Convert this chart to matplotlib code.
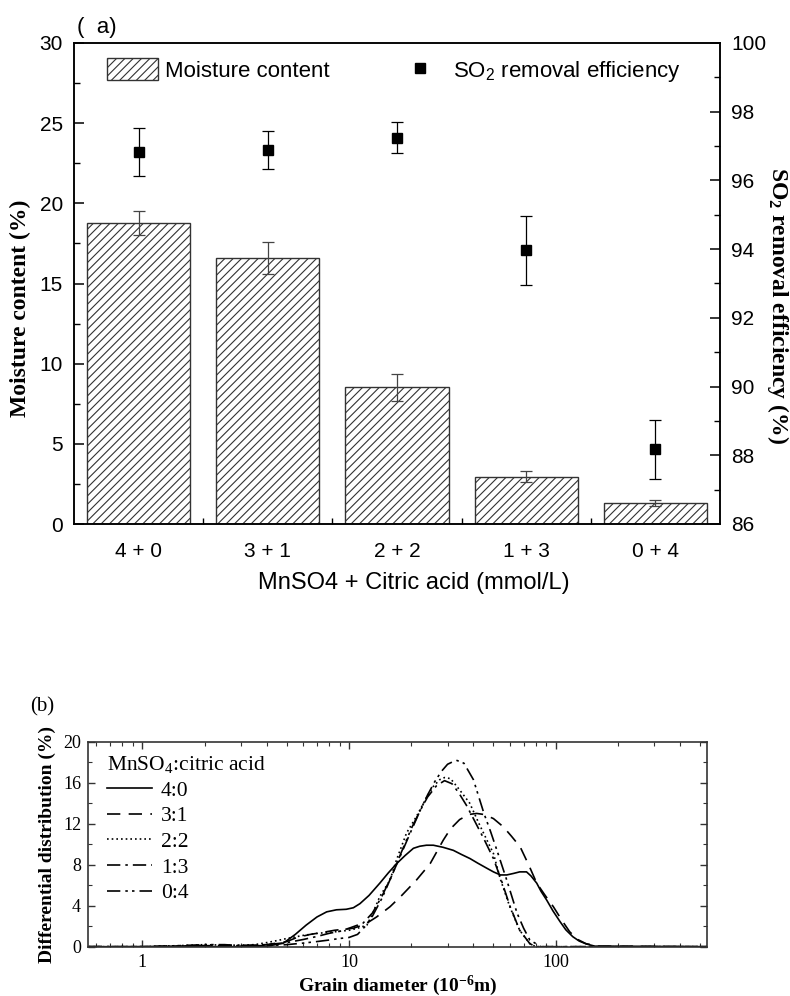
import matplotlib
matplotlib.use('Agg')
import matplotlib.pyplot as plt
from matplotlib.lines import Line2D
from matplotlib.patches import Patch
from matplotlib.ticker import MultipleLocator, FixedLocator, LogLocator, NullFormatter

plt.rcParams['font.family'] = ['Liberation Sans', 'DejaVu Sans']
plt.rcParams['mathtext.default'] = 'regular'
plt.rcParams['hatch.linewidth'] = 0.8

# ---- panel (a) data ----
groupes = ['4 + 0', '3 + 1', '2 + 2', '1 + 3', '0 + 4']
humidite = [18.75, 16.6, 8.53, 2.95, 1.33]
humidite_err = [0.75, 1.0, 0.85, 0.35, 0.18]
so2 = [96.84, 96.88, 97.24, 93.97, 88.17]
so2_err = [0.7, 0.55, 0.45, 1.0, 0.85]

# ---- panel (b) data ----
x_40 = [0.55, 1, 2, 3, 4, 4.8, 5.5, 6.2, 7, 7.8, 8.7, 9.7, 10.5, 11.3, 12.5, 14.1, 15.5, 17, 18.7,
        20.5, 22, 23.7, 25.6, 28.5, 32, 35, 38.5, 42, 46.5, 50, 54, 58, 62.6, 67, 72.3, 76, 81, 85,
        90.5, 97, 105, 112, 121, 130, 141, 155, 540]
y_40 = [0, 0, 0, 0, 0.05, 0.33, 1.2, 2.1, 2.9, 3.4, 3.6, 3.65, 3.8, 4.2, 5.0, 6.2, 7.2, 8.1, 8.9,
        9.6, 9.8, 9.9, 9.9, 9.7, 9.4, 9.0, 8.6, 8.15, 7.65, 7.3, 7.0, 7.0, 7.15, 7.3, 7.3, 6.9, 6.2, 5.4,
        4.55, 3.5, 2.45, 1.65, 0.98, 0.55, 0.26, 0.05, 0]
x_31 = [0.55, 1, 2, 3, 4, 5, 5.6, 6.5, 7.5, 8.5, 9.4, 10.5, 12, 13.6, 15.8, 18, 21.2, 24.7, 28.6,
        31, 34.3, 38, 41.5, 45, 50, 55.8, 61, 67.3, 74, 81, 89, 97.5, 107, 117, 128, 140, 160, 540]
y_31 = [0, 0, 0.1, 0.1, 0.2, 0.5, 0.9, 1.2, 1.4, 1.6, 1.7, 1.8, 2.2, 2.9, 3.9, 5.0, 6.5, 8.1, 10.4,
        11.5, 12.4, 12.9, 13.0, 12.9, 12.5, 11.7, 10.8, 9.75, 8.0, 6.2, 5.0, 3.9, 2.6, 1.45, 0.7, 0.3, 0.05, 0]
x_22 = [0.55, 1, 1.5, 2, 2.5, 3, 3.5, 4, 4.5, 5, 6, 7, 8, 9, 10, 11, 12.2, 13, 14.1, 15.8, 17, 19,
        21.2, 23.8, 25.5, 27.5, 29, 31, 34.3, 38.4, 42.6, 46.5, 50, 54, 60, 67, 75, 80, 540]
y_22 = [0, 0, 0.1, 0.2, 0.15, 0.15, 0.2, 0.4, 0.6, 0.8, 1.1, 1.3, 1.4, 1.5, 1.6, 1.8, 2.1, 3.2, 4.9,
        6.5, 8.5, 11.1, 12.7, 14.6, 15.6, 16.3, 16.5, 16.4, 15.3, 14.0, 12.0, 10.4, 9.1, 6.6, 3.9, 1.6,
        0.3, 0.0, 0]
x_13 = [0.55, 1, 2, 3, 4, 5, 6, 7, 8, 9, 10, 11.7, 13, 14.5, 16, 17.5, 19.5, 22, 24, 26.5, 29, 31.5,
        34, 37, 40, 45, 50, 55, 60, 67, 75, 80, 540]
y_13 = [0, 0, 0.1, 0.1, 0.2, 0.4, 0.7, 1.0, 1.3, 1.5, 1.8, 2.3, 3.3, 5.0, 6.8, 8.6, 10.8, 13.2, 14.6,
        15.7, 16.2, 15.9, 15.0, 13.8, 12.5, 10.5, 8.6, 6.3, 4.0, 1.6, 0.3, 0, 0]
x_04 = [0.55, 1, 1.5, 2, 2.5, 3, 4, 5, 6, 7, 8, 9, 10, 11, 12, 13, 14.5, 16, 18, 20, 22, 24, 26, 28,
        30, 33, 36, 40, 45, 48.5, 52, 58, 65, 70, 75, 85, 540]
y_04 = [0, 0, 0.1, 0.2, 0.2, 0.1, 0.1, 0.2, 0.35, 0.5, 0.65, 0.8, 0.9, 1.2, 2.0, 3.0, 4.8, 6.8, 9.3,
        11.5, 13.2, 14.8, 16.1, 17.1, 17.8, 18.2, 17.9, 16.3, 13.0, 11.2, 9.4, 6.5, 3.3, 1.8, 0.65, 0, 0]
courbes = [
    ('4:0', x_40, y_40, '-'),
    ('3:1', x_31, y_31, (0, (8, 5))),
    ('2:2', x_22, y_22, (0, (1, 1.8))),
    ('1:3', x_13, y_13, (0, (8, 3, 1.5, 3))),
    ('0:4', x_04, y_04, (0, (8, 3, 1.5, 2.5, 1.5, 3))),
]

fig = plt.figure(figsize=(7.9, 9.96), dpi=100)

# ================= panel (a) =================
ax1 = fig.add_axes([74 / 790, 1 - 524 / 996, 646 / 790, 481 / 996])
ax2 = ax1.twinx()
pos = list(range(len(groupes)))

ax1.bar(pos, humidite, width=0.8, color='white', edgecolor='#333333', hatch='////',
        linewidth=1.0, zorder=2)
ax1.errorbar(pos, humidite, yerr=humidite_err, fmt='none', ecolor='#444444',
             elinewidth=0.9, capsize=4, capthick=0.9, zorder=3)
ax2.errorbar(pos, so2, yerr=so2_err, fmt='s', color='black', markersize=7.5,
             elinewidth=0.9, capsize=4, capthick=0.9, zorder=4)

ax1.set_xlim(-0.5, 4.5)
ax1.set_ylim(0, 30)
ax2.set_ylim(86, 100)
ax1.set_xticks(pos)
ax1.set_xticklabels(groupes)
ax1.xaxis.set_minor_locator(FixedLocator([0.5, 1.5, 2.5, 3.5]))
ax1.yaxis.set_major_locator(MultipleLocator(5))
ax1.yaxis.set_minor_locator(MultipleLocator(2.5))
ax2.yaxis.set_major_locator(MultipleLocator(2))
ax2.yaxis.set_minor_locator(MultipleLocator(1))

for ax in (ax1, ax2):
    for sp in ax.spines.values():
        sp.set_linewidth(1.1)
    ax.tick_params(which='major', direction='in', length=7, width=1.1, labelsize=15)
    ax.tick_params(which='minor', direction='in', length=4, width=1.0)
ax1.tick_params(axis='x', which='major', pad=13)
ax1.tick_params(axis='y', which='major', pad=8)
ax2.tick_params(axis='y', which='major', pad=8)

ax1.set_xlabel('MnSO4 + Citric acid (mmol/L)', fontsize=17, x=0.526, labelpad=8)
ax1.set_ylabel('Moisture content (%)', fontsize=17, fontweight='bold',
               family=['Liberation Serif'], labelpad=6, y=0.449)
ax2.set_ylabel('SO$_2$ removal efficiency (%)', fontsize=17, fontweight='bold',
               family=['Liberation Serif'], rotation=270, labelpad=18, y=0.455)

h_bar = Patch(facecolor='white', edgecolor='#333333', hatch='////', linewidth=1.0)
h_pt = Line2D([], [], marker='s', color='black', linestyle='none', markersize=7.5)
ax2.legend([h_bar, h_pt], ['Moisture content', 'SO$_2$ removal efficiency'], ncol=2,
           loc='upper left', bbox_to_anchor=(0.051, 0.968), frameon=False, fontsize=16,
           handlelength=2.3, handleheight=1.15, handletextpad=0.3, columnspacing=2.95,
           borderpad=0, borderaxespad=0)

fig.text(77 / 790, 1 - 27 / 996, '(  a)', fontsize=16, va='center', ha='left')

# ================= panel (b) =================
serif = ['Liberation Serif', 'DejaVu Serif']
ax3 = fig.add_axes([88 / 790, 1 - 946.7 / 996, 619 / 790, 205 / 996])
for nom, xs, ys, ls in courbes:
    ax3.plot(xs, ys, linestyle=ls, color='black', linewidth=1.2, label=nom)

ax3.set_xscale('log')
ax3.set_xlim(0.546, 540)
ax3.set_ylim(0, 20)
ax3.yaxis.set_major_locator(MultipleLocator(4))
ax3.yaxis.set_minor_locator(MultipleLocator(2))
ax3.xaxis.set_major_locator(FixedLocator([1, 10, 100]))
ax3.xaxis.set_minor_locator(LogLocator(base=10, subs=range(2, 10)))
ax3.xaxis.set_minor_formatter(NullFormatter())
ax3.set_xticklabels(['1', '10', '100'])
for sp in ax3.spines.values():
    sp.set_linewidth(1.2)
    sp.set_color('#333333')
ax3.tick_params(which='both', direction='in', top=True, right=True, color='#333333')
ax3.tick_params(which='major', length=5, width=1.0, labelsize=13, pad=5)
ax3.tick_params(which='minor', length=3, width=0.8)
for lab in ax3.get_xticklabels() + ax3.get_yticklabels():
    lab.set_family(serif)

ax3.set_xlabel('Grain diameter (10$^{-6}$m)', fontsize=14, fontweight='bold', family=serif,
               labelpad=2)
ax3.set_ylabel('Differential distribution (%)', fontsize=14, fontweight='bold', family=serif,
               labelpad=5)

leg = ax3.legend(title='MnSO$_4$:citric acid', loc='upper left', bbox_to_anchor=(0.031, 0.94),
                 frameon=False, prop={'family': serif, 'size': 15.5},
                 title_fontproperties={'family': serif, 'size': 15.5},
                 handlelength=2.1, handletextpad=0.4, labelspacing=0.26, borderpad=0,
                 borderaxespad=0, alignment='left')

fig.text(30 / 790, 1 - 707 / 996, '(b)', fontsize=15, family=serif, va='center', ha='left')

fig.savefig('out.png', dpi=100)
